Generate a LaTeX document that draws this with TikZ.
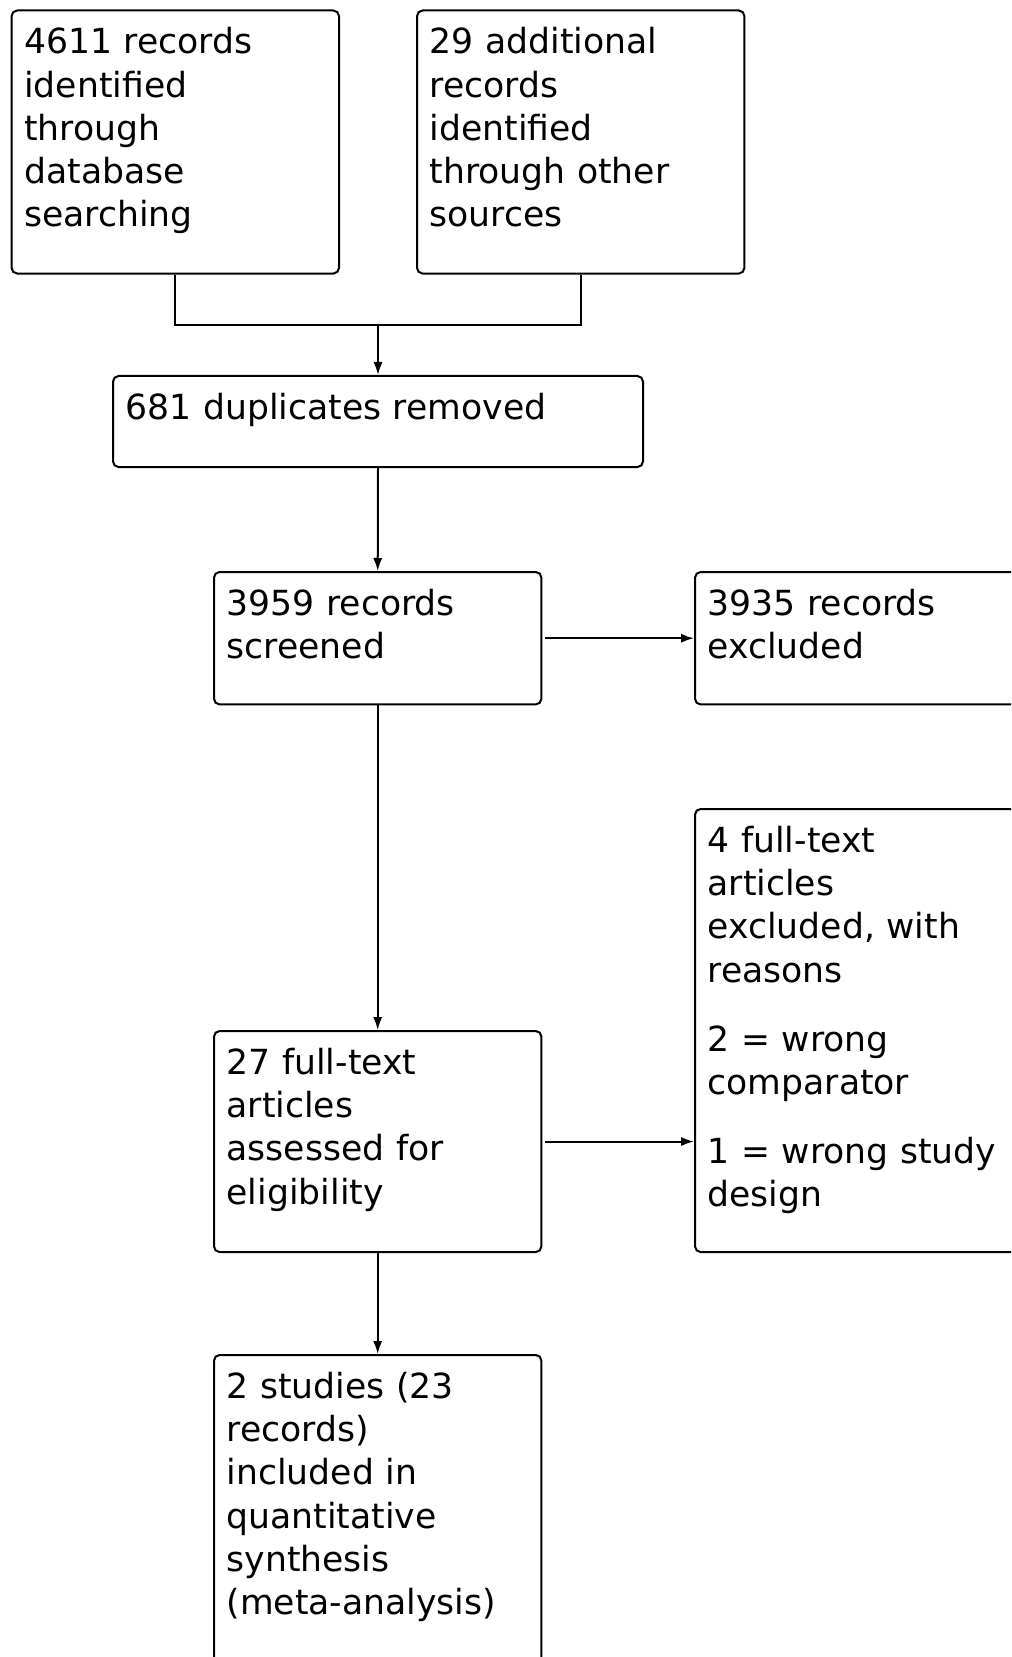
\documentclass[tikz,border=0pt]{standalone}
\usepackage{fontspec}
\setmainfont{DejaVu Sans}
\usepackage{tikz}
\usetikzlibrary{calc,arrows.meta}

\begin{document}
\begin{tikzpicture}[
x=0.5pt, y=-0.5pt,
box/.style={
	draw, rectangle, rounded corners=2.8pt,
	anchor=north west, align=left,
	inner xsep=6.35pt, inner ysep=6.6pt,
	text width=151pt, text height=15.12pt,
	font=\fontsize{17.3}{21.6}\selectfont,
	execute at begin node=\strut
},
line width=1pt, >={Latex[length=6.5pt,width=4.6pt]}
]
\clip (0,0) rectangle (1011,1657);
\node[box, text depth=103.2pt] (0) at (10.6,9.5) {4611 records\\identified\\through\\database\\searching};
\node[box, text depth=103.2pt] (1) at (416,9.5) {29 additional\\records\\identified\\through other\\sources};
\node[box, text width=252.3pt, text depth=17.2pt] (2) at (112,375) {681 duplicates removed};
\node[box, text depth=37.9pt] (3) at (213,571) {3959 records\\screened};
\node[box, text width=200pt, text depth=37.9pt] (4) at (694,571) {3935 records\\excluded};
\node[box, text depth=82.2pt] (5) at (213,1030) {27 full-text\\articles\\assessed for\\eligibility};
\node[box, text width=200pt, text depth=193.2pt] (6) at (694,808) {4 full-text\\articles\\excluded, with\\reasons\\[12.9pt]2 = wrong\\comparator\\[12.9pt]1 = wrong study\\design};
\node[box, text depth=220pt] (7) at (213,1354) {2 studies (23\\records)\\included in\\quantitative\\synthesis\\(meta-analysis)};
% join of the two sources
\coordinate (J) at ($(2.north)+(0,-50)$);
\draw (0.south) |- (J) -| (1.south);
\draw[->] (J) -- (2.north);
\foreach \a/\b in {2/3,3/5,5/7}
{
	\draw[->] (\a.south) -- (\b.north);
}
\draw[->] ($(3.east)+(3,0)$) -- (3.east -| 4.west);
\draw[->] ($(5.east)+(3,0)$) -- (5.east -| 6.west);
\end{tikzpicture}
\end{document}
